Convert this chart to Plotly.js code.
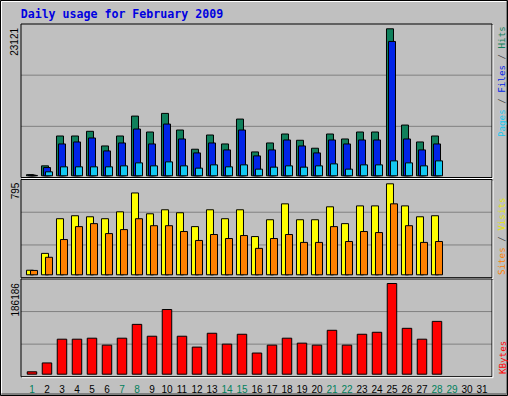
<!DOCTYPE html>
<html><head><meta charset="utf-8">
<script src="https://cdn.plot.ly/plotly-3.0.1.min.js"></script>
<style>html,body{margin:0;padding:0;background:#c0c0c0;overflow:hidden}#chart{width:508px;height:396px}</style>
</head><body><div id="chart"></div>
<script>
// ---- data ----
const days = [1,2,3,4,5,6,7,8,9,10,11,12,13,14,15,16,17,18,19,20,21,22,23,24,25,26,27,28];
const tickDays = [1,2,3,4,5,6,7,8,9,10,11,12,13,14,15,16,17,18,19,20,21,22,23,24,25,26,27,28,29,30,31];
const weekendDays = [1,7,8,14,15,21,22,28,29];
const hits   = [180,1565,6262,6262,6997,4696,6262,9392,6888,9815,7201,4180,6418,5009,8923,3757,5166,6575,5588,4336,6575,5792,6888,6888,23121,7983,5322,6262];
const files  = [120,1299,5009,5322,5949,3914,5166,7357,5009,8140,5792,3600,5166,4070,7201,3131,4070,5635,4696,3600,5635,5009,5635,5635,21133,5792,4070,5009];
const pages  = [60,626,1409,1409,1409,1409,1565,2035,1565,2192,1565,1205,1722,1409,1722,1049,1362,1565,1362,1565,1878,1049,1722,1722,2348,2035,1565,2348];
const visits = [40,187,490,516,507,490,550,715,533,568,542,421,568,490,568,334,481,620,481,481,594,447,602,602,795,602,507,516];
const sites  = [38,153,308,421,447,360,395,490,429,429,378,300,352,317,343,231,317,352,283,283,421,291,378,369,620,429,283,291];
const kbytes = [4900,23140,71860,71860,73890,59680,73890,102300,77950,132760,77950,55620,84040,61710,82010,43440,59680,73890,63740,59680,90130,59680,82010,86070,186186,94190,71860,108400];
const titleText = 'Daily usage for February 2009';

// ---- layout helpers (pixel -> paper, margins are 0) ----
const W = 508, H = 396;
const fx = p => p / W;
const fy = p => 1 - p / H;

const C = {hits:'#10805c', files:'#0024e8', pages:'#14c8f0', visits:'#ffff00', sites:'#ff8000', kb:'#ff0000', weekend:'#00805c'};

// panels: [top, bottom, baseline, maxTop] in pixels
const P = [
  {top:24,    bot:177.5, base:175.8, maxTop:28.8},
  {top:179.5, bot:277.7, base:274.8, maxTop:183.8},
  {top:279,   bot:376.7, base:374.2, maxTop:283.5}
];
const maxes = [Math.max(...hits), Math.max(...visits), Math.max(...kbytes)];
function rng(i){
  const p = P[i], per = maxes[i] / (p.base - p.maxTop);
  return [-(p.bot - p.base) * per, (p.base - p.top) * per];
}
function yax(i){
  return {domain:[fy(P[i].bot), fy(P[i].top)], range:rng(i), showticklabels:false, showgrid:false,
          zeroline:false, showline:false, ticks:'', fixedrange:true};
}

const line = {color:'#000', width:1};
const traces = [
  {type:'bar', x:days, y:hits,   xaxis:'x', yaxis:'y',  offset:-0.367, width:0.467, marker:{color:C.hits,   line}},
  {type:'bar', x:days, y:files,  xaxis:'x', yaxis:'y',  offset:-0.233, width:0.467, marker:{color:C.files,  line}},
  {type:'bar', x:days, y:pages,  xaxis:'x', yaxis:'y',  offset:-0.1,   width:0.467, marker:{color:C.pages,  line}},
  {type:'bar', x:days, y:visits, xaxis:'x', yaxis:'y2', offset:-0.367, width:0.467, marker:{color:C.visits, line}},
  {type:'bar', x:days, y:sites,  xaxis:'x', yaxis:'y2', offset:-0.1,   width:0.467, marker:{color:C.sites,  line}},
  {type:'bar', x:days, y:kbytes, xaxis:'x', yaxis:'y3', offset:-0.317, width:0.633, marker:{color:C.kb,     line}}
];

const ticktext = tickDays.map(d => weekendDays.includes(d) ? `<span style="color:${C.weekend}">${d}</span>` : String(d));

const shapes = [];
P.forEach(p => {
  const h = p.bot - p.top;
  [1/3, 2/3].forEach(f => shapes.push({type:'line', xref:'paper', yref:'paper', layer:'below',
    x0:fx(21), x1:fx(492), y0:fy(p.top + h*f), y1:fy(p.top + h*f), line:{color:'#808080', width:1}}));
  shapes.push({type:'rect', xref:'paper', yref:'paper', layer:'above',
    x0:fx(21), x1:fx(492), y0:fy(p.bot), y1:fy(p.top), line:{color:'#000', width:1}});
  shapes.push({type:'line', xref:'paper', yref:'paper', layer:'above',
    x0:fx(493), x1:fx(493), y0:fy(p.top+1), y1:fy(p.bot+1), line:{color:'#fff', width:1}});
  shapes.push({type:'line', xref:'paper', yref:'paper', layer:'above',
    x0:fx(22), x1:fx(493), y0:fy(p.bot+1), y1:fy(p.bot+1), line:{color:'#fff', width:1}});
});
// outer frame
shapes.push({type:'rect', xref:'paper', yref:'paper', x0:fx(0.5), x1:fx(507.5), y0:fy(395.5), y1:fy(0.5), line:{color:'#000', width:1}});
shapes.push({type:'line', xref:'paper', yref:'paper', x0:fx(1.5), x1:fx(506), y0:fy(1.5), y1:fy(1.5), line:{color:'#fff', width:1}});
shapes.push({type:'line', xref:'paper', yref:'paper', x0:fx(1.5), x1:fx(1.5), y0:fy(1.5), y1:fy(394), line:{color:'#fff', width:1}});
shapes.push({type:'line', xref:'paper', yref:'paper', x0:fx(506.5), x1:fx(506.5), y0:fy(1.5), y1:fy(394.5), line:{color:'#808080', width:1}});
shapes.push({type:'line', xref:'paper', yref:'paper', x0:fx(1.5), x1:fx(506.5), y0:fy(394), y1:fy(394), line:{color:'#808080', width:2}});

const sideFont = {family:'DejaVu Sans Mono', size:9.2};
const maxFont = {family:'Liberation Sans', size:10, color:'#000'};
const maxAnn = (i, yr) => ({text:String(maxes[i]), xref:'paper', x:fx(15), xanchor:'center', yref:yr, y:maxes[i],
  yanchor:'top', yshift:3, textangle:-90, showarrow:false, font:maxFont});
const sideAnn = (text, px, py, color) => ({text, xref:'paper', yref:'paper', x:fx(px), y:fy(py),
  xanchor:'center', yanchor:'middle', textangle:-90, showarrow:false, font:Object.assign({color}, sideFont)});
const annotations = [
  maxAnn(0, 'y'), maxAnn(1, 'y2'), maxAnn(2, 'y3'),
  sideAnn(`<span style="color:${C.pages}">Pages</span> / <span style="color:${C.files}">Files</span> / <span style="color:${C.hits}">Hits</span>`, 501, 82, '#404040'),
  sideAnn(`<span style="color:${C.sites}">Sites</span> / <span style="color:#e8e800">Visits</span>`, 501, 237, '#404040'),
  sideAnn('KBytes', 502, 358, C.kb)
];

const layout = {
  width:W, height:H, margin:{l:0, r:0, t:0, b:0},
  paper_bgcolor:'#c0c0c0', plot_bgcolor:'#c0c0c0',
  barmode:'overlay', showlegend:false,
  title:{text:titleText, x:fx(20.7), xanchor:'left', xref:'paper', y:fy(14.3), yanchor:'middle',
         font:{family:'DejaVu Sans Mono', size:11.6, color:'#0000e0', weight:'bold'}},
  xaxis:{domain:[fx(21), fx(492)], range:[0.267, 31.667], anchor:'y3', tickvals:tickDays, ticktext:ticktext,
         tickangle:0, tickfont:{family:'Liberation Sans', size:10, color:'#000'}, ticks:'outside', ticklen:3,
         tickcolor:'rgba(0,0,0,0)', showgrid:false,
         zeroline:false, showline:false, fixedrange:true, automargin:false},
  yaxis:yax(0), yaxis2:yax(1), yaxis3:yax(2),
  shapes, annotations
};
Plotly.newPlot('chart', traces, layout, {displayModeBar:false, staticPlot:true});
</script></body></html>
